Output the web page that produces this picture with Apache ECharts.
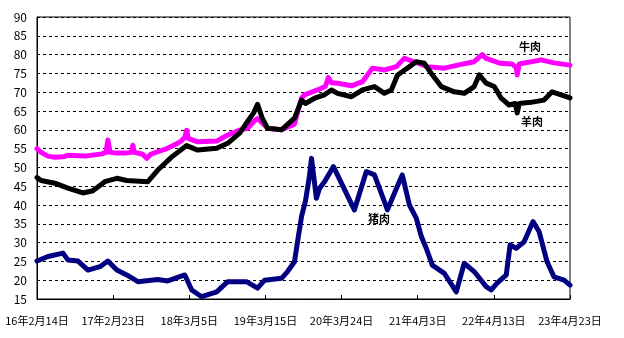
<!DOCTYPE html>
<html><head><meta charset="utf-8">
<script src="https://cdn.jsdelivr.net/npm/echarts@6/dist/echarts.min.js"></script>
<style>html,body{margin:0;padding:0;background:#fff}#c{width:624px;height:338px}</style>
</head><body><div id="c"></div>
<script>
// x = days since 2016-02-14
const xTickLabels = ['16年2月14日','17年2月23日','18年3月5日','19年3月15日','20年3月24日','21年4月3日','22年4月13日','23年4月23日'];
const seriesNames = ['牛肉','羊肉','猪肉'];
const beef = [[0,55.0],[20,54.0],[54,53.0],[88,52.7],[128,52.8],[152,53.2],[236,53.0],[320,53.6],[340,54.0],[349,57.3],[360,54.0],[393,53.8],[433,53.8],[465,54.0],[472,55.9],[480,54.0],[520,53.5],[541,52.4],[560,53.5],[595,54.2],[640,55.0],[678,56.0],[710,57.0],[728,58.0],[737,59.9],[745,57.7],[791,56.8],[885,57.0],[939,58.6],[998,59.9],[1037,60.4],[1067,62.2],[1086,63.0],[1136,60.4],[1204,60.0],[1268,61.5],[1290,66.0],[1303,68.4],[1317,69.3],[1381,70.6],[1420,71.5],[1435,73.9],[1450,72.5],[1480,72.4],[1549,71.7],[1603,72.8],[1652,76.4],[1711,75.9],[1770,76.8],[1809,79.0],[1858,78.1],[1922,76.8],[2006,76.4],[2089,77.4],[2153,78.1],[2193,80.0],[2212,79.0],[2280,77.7],[2340,77.5],[2360,76.5],[2365,74.6],[2375,77.5],[2483,78.6],[2546,77.8],[2625,77.2]];
const mutton = [[0,47.3],[20,46.5],[88,45.8],[152,44.5],[226,43.2],[275,43.8],[334,46.2],[393,47.1],[442,46.5],[546,46.2],[595,49.3],[664,52.8],[737,55.8],[791,54.6],[885,55.1],[939,56.4],[998,59.1],[1037,62.2],[1067,64.5],[1086,66.8],[1110,63.0],[1136,60.4],[1204,60.0],[1268,63.1],[1303,67.9],[1322,67.0],[1367,68.4],[1416,69.3],[1450,70.6],[1480,69.7],[1549,68.8],[1603,70.6],[1662,71.5],[1711,69.7],[1745,70.6],[1760,72.5],[1775,74.5],[1800,75.5],[1824,76.4],[1868,78.1],[1907,77.7],[1942,75.0],[1991,71.5],[2055,70.1],[2104,69.7],[2153,71.5],[2178,74.6],[2212,72.4],[2252,71.5],[2286,68.4],[2325,66.6],[2355,67.0],[2365,64.5],[2375,67.0],[2433,67.3],[2497,67.9],[2537,70.1],[2581,69.3],[2625,68.5]];
const pork = [[0,25.1],[5,24.6],[54,26.3],[128,27.2],[152,25.4],[202,25.1],[251,22.7],[310,23.6],[349,25.1],[393,22.7],[442,21.4],[497,19.6],[595,20.2],[644,19.8],[728,21.4],[762,17.4],[811,15.6],[885,16.9],[939,19.6],[1032,19.6],[1086,17.9],[1121,20.0],[1204,20.5],[1234,22.3],[1268,24.9],[1283,30.2],[1303,37.0],[1322,41.0],[1340,47.0],[1352,52.4],[1376,41.8],[1391,44.4],[1416,46.2],[1460,50.2],[1504,45.3],[1563,38.7],[1622,48.9],[1662,48.0],[1726,38.7],[1770,44.4],[1799,48.0],[1834,40.0],[1868,36.5],[1893,31.6],[1917,28.5],[1947,24.0],[2006,21.8],[2065,16.9],[2104,24.5],[2153,22.3],[2212,18.3],[2237,17.4],[2266,19.2],[2311,21.4],[2330,29.4],[2360,28.5],[2399,30.2],[2443,35.6],[2473,32.9],[2512,24.9],[2546,20.9],[2596,20.0],[2625,18.7]];

const chart = echarts.init(document.getElementById('c'), null, {renderer:'canvas'});
const narrow = "'Liberation Sans Narrow','Noto Sans CJK SC',sans-serif";
const lineS = (name, data, color) => ({
  name, type:'line', data, showSymbol:false, smooth:false, animation:false,
  lineStyle:{color, width:5, join:'round', cap:'round'}, itemStyle:{color}
});
chart.setOption({
  animation:false,
  grid:{left:37, right:54, top:17, bottom:39, show:true, borderColor:'#000', borderWidth:1, backgroundColor:'transparent'},
  xAxis:{type:'value', min:0, max:2625, interval:375,
    axisLine:{show:true, lineStyle:{color:'#000', width:1}},
    axisTick:{show:true, inside:true, length:4, lineStyle:{color:'#000'}},
    splitLine:{show:false},
    axisLabel:{color:'#000', fontSize:11, fontFamily:narrow, margin:16, showMinLabel:true, showMaxLabel:true,
      formatter:v => xTickLabels[Math.round(v/375)] || ''}
  },
  yAxis:{type:'value', min:15, max:90, interval:5,
    axisLine:{show:true, lineStyle:{color:'#000', width:1}},
    axisTick:{show:false},
    splitLine:{show:true, lineStyle:{color:'#000', type:[3,3], width:1}},
    axisLabel:{color:'#000', fontSize:12, fontFamily:narrow, margin:10}
  },
  series:[
    lineS(seriesNames[0], beef, '#FF00FF'),
    lineS(seriesNames[1], mutton, '#000000'),
    lineS(seriesNames[2], pork, '#000080')
  ],
  graphic:[
    {type:'text', left:519, top:41, style:{text:seriesNames[0], fill:'#000', font:"bold 11px 'Noto Sans CJK SC'"}},
    {type:'text', left:521, top:116, style:{text:seriesNames[1], fill:'#000', font:"bold 11px 'Noto Sans CJK SC'"}},
    {type:'text', left:368, top:213, style:{text:seriesNames[2], fill:'#000', font:"bold 11px 'Noto Sans CJK SC'"}}
  ]
});
</script></body></html>
